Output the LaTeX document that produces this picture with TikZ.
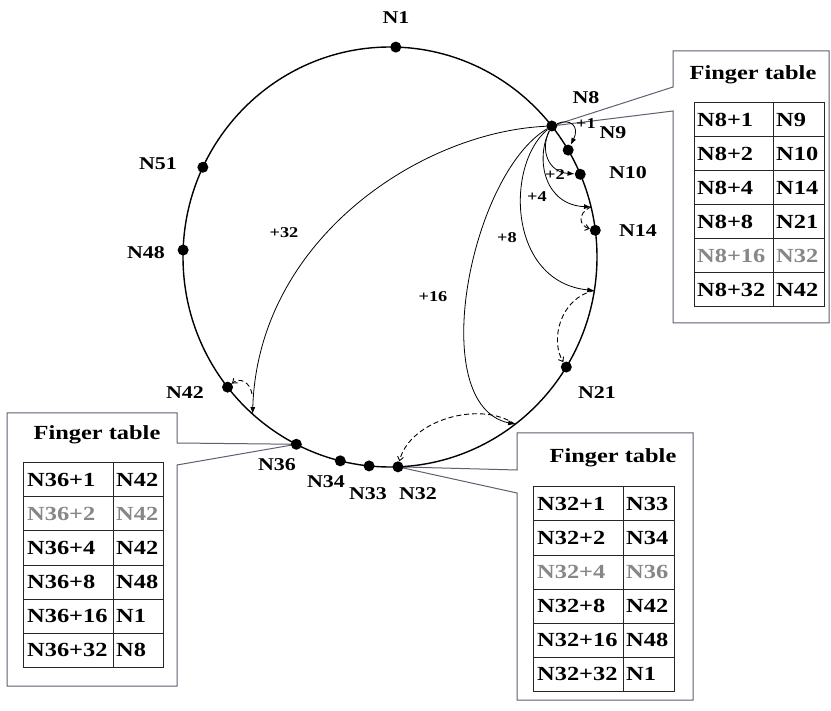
\documentclass[tikz,border=0pt]{standalone}
\usepackage{fontspec}
\setmainfont{Liberation Serif}[FakeStretch=1.22]
\usetikzlibrary{arrows.meta}
\definecolor{boxline}{RGB}{95,95,115}
\definecolor{dimtext}{RGB}{135,135,135}
\pgfdeclarelayer{bg}
\pgfsetlayers{bg,main}

\begin{document}
\begin{tikzpicture}[x=1pt,y=-1pt,
  ring/.style={line width=1.4pt},
  dot/.style={circle,fill=black,inner sep=0pt,minimum size=11pt},
  lbl/.style={font=\fontsize{18}{20}\selectfont\bfseries},
  hoplbl/.style={font=\fontsize{15}{17}\selectfont\bfseries},
  hop/.style={line width=0.8pt,-{Latex[length=7pt,width=5pt]}},
  succ/.style={line width=0.9pt,dash pattern=on 5pt off 3pt,-{Straight Barb[length=4pt,width=6pt]}},
  callout/.style={draw=boxline,line width=1pt},
  cell/.style={font=\fontsize{20}{22}\selectfont\bfseries,anchor=west,inner sep=0pt},
  title/.style={font=\fontsize{20}{22}\selectfont\bfseries},
  grid/.style={draw=black!85,line width=1pt}]

\useasboundingbox (0,0) rectangle (831,711);

% the identifier ring
\draw[ring] (390,257) ellipse [x radius=207pt, y radius=210pt];

% nodes on the ring (angle in degrees)
\foreach \n/\t in {1/88.4, 8/38.6, 9/30.6, 10/23.2, 14/7.3, 21/-31.6, 32/-87.8,
                   33/-95.8, 34/-103.9, 36/-116.9, 42/-141.7, 48/178.1, 51/154.7}
  \node[dot] (n\n) at ({390+207*cos(\t)},{257-210*sin(\t)}) {};

% finger start points on the ring
\foreach \p/\t in {12/13.8, 16/-9.2, 24/-52.8, 40/-131.6}
  \coordinate (p\p) at ({390+207*cos(\t)},{257-210*sin(\t)});
\coordinate (d40) at (252,394);

% node labels
\node[lbl] (l1)  at (396,18)  {N1};
\node[lbl] (l8)  at (586,98)  {N8};
\node[lbl] (l9)  at (613,133) {N9};
\node[lbl] (l10) at (628,173) {N10};
\node[lbl] (l14) at (638,231) {N14};
\node[lbl] (l21) at (597,393) {N21};
\node[lbl] (l51) at (158,164) {N51};
\node[lbl] (l48) at (146,253) {N48};
\node[lbl] (l42) at (185,393) {N42};
\node[lbl] (l36) at (277,465) {N36};
\node[lbl] (l34) at (326,482) {N34};
\node[lbl] (l33) at (368,494) {N33};
\node[lbl] (l32) at (418,494) {N32};

% fingers of N8
\draw[hop] (n8) .. controls (420,132) and (258,240) .. (p40);
\draw[hop] (n8) .. controls (470,175) and (425,405) .. (p24);
\draw[hop] (n8) .. controls (505,165) and (508,282) .. (p16);
\draw[hop] (n8) .. controls (535,160) and (545,205) .. (p12);
\draw[hop] (n8) .. controls (540,150) and (548,172) .. (n10);
\draw[hop] (n8) .. controls (570,118) and (580,126) .. (n9);

\node[hoplbl] (h32) at (284,233) {+32};
\node[hoplbl] (h16) at (433,297) {+16};
\node[hoplbl] (h8)  at (507,238) {+8};
\node[hoplbl] (h4)  at (537,197) {+4};
\node[hoplbl] (h2)  at (555,175) {+2};
\node[hoplbl] (h1)  at (586,124) {+1};

% successors of the finger start points
\draw[succ] (p12) .. controls (576,214) and (580,226) .. (n14);
\draw[succ] (p16) .. controls (560,298) and (550,340) .. (n21);
\draw[succ] (p24) .. controls (480,400) and (410,420) .. (n32);
\draw[succ] (d40) .. controls (250,382) and (240,377) .. (n42);

% callout outlines, kept underneath the ring nodes
\begin{pgfonlayer}{bg}
\fill[white] (0,0) rectangle (831,711);
\draw[callout] (673,87) -- (673,51) -- (829,51) -- (829,323) -- (673,323) -- (673,111) -- (n8.center) -- cycle;
\draw[callout] (177,443) -- (177,413) -- (7,413) -- (7,686) -- (177,686) -- (177,465) -- (n36.center) -- cycle;
\draw[callout] (517,470) -- (517,433) -- (693,433) -- (693,700) -- (517,700) -- (517,493) -- (n32.center) -- cycle;
\end{pgfonlayer}

% finger table of N8
\node[title] (ft8) at (753,75) {Finger table};
\draw[grid] (694,103) rectangle (824,307);
\draw[grid] (773,103) -- (773,307);
\foreach \i in {1,...,5} \draw[grid] (694,{103+34*\i}) -- (824,{103+34*\i});
\foreach \a/\b/\c [count=\i from 0] in {N8+1/N9/black, N8+2/N10/black, N8+4/N14/black,
    N8+8/N21/black, N8+16/N32/dimtext, N8+32/N42/black} {
  \node[cell,text=\c] (ra\i) at (697,{120+34*\i}) {\a};
  \node[cell,text=\c] (rb\i) at (776,{120+34*\i}) {\b};
}

% finger table of N36
\node[title] (ft36) at (97,435) {Finger table};
\draw[grid] (23,463) rectangle (163,667);
\draw[grid] (113,463) -- (113,667);
\foreach \i in {1,...,5} \draw[grid] (23,{463+34*\i}) -- (163,{463+34*\i});
\foreach \a/\b/\c [count=\i from 0] in {N36+1/N42/black, N36+2/N42/dimtext, N36+4/N42/black,
    N36+8/N48/black, N36+16/N1/black, N36+32/N8/black} {
  \node[cell,text=\c] (la\i) at (27,{480+34*\i}) {\a};
  \node[cell,text=\c] (lb\i) at (116,{480+34*\i}) {\b};
}

% finger table of N32
\node[title] (ft32) at (613,458) {Finger table};
\draw[grid] (533,487) rectangle (674,691);
\draw[grid] (623,487) -- (623,691);
\foreach \i in {1,...,5} \draw[grid] (533,{487+34*\i}) -- (674,{487+34*\i});
\foreach \a/\b/\c [count=\i from 0] in {N32+1/N33/black, N32+2/N34/black, N32+4/N36/dimtext,
    N32+8/N42/black, N32+16/N48/black, N32+32/N1/black} {
  \node[cell,text=\c] (ba\i) at (537,{504+34*\i}) {\a};
  \node[cell,text=\c] (bb\i) at (626,{504+34*\i}) {\b};
}
\end{tikzpicture}
\end{document}
